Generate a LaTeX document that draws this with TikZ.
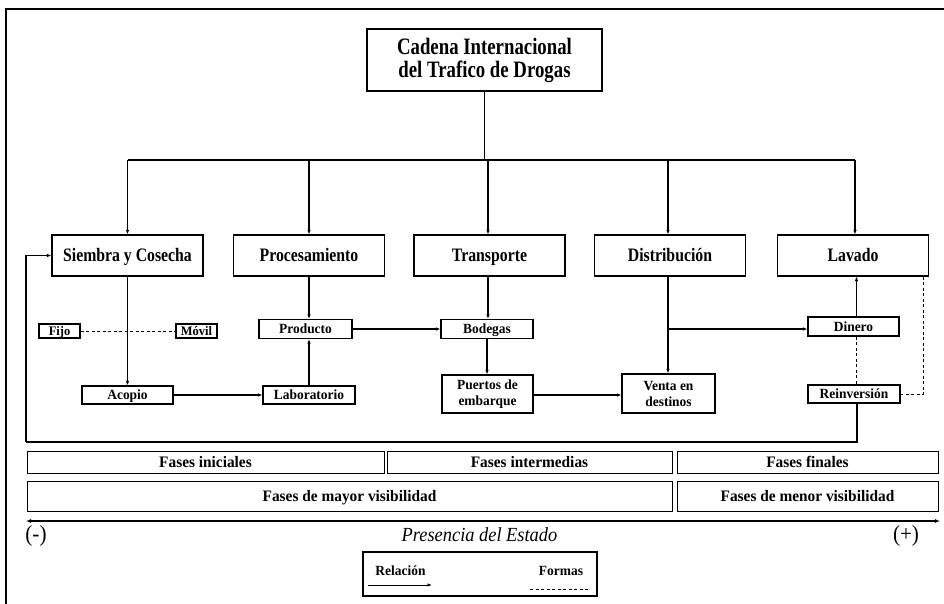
\documentclass[tikz,border=0pt]{standalone}
\usepackage{fontspec}
\setmainfont{Liberation Serif}
\newfontfamily\titlefont[FakeStretch=0.8]{Liberation Serif}
\newfontfamily\rowfont[FakeStretch=0.83]{Liberation Serif}
\newfontfamily\smallfont[FakeStretch=0.96]{Liberation Serif}
\newfontfamily\axisfont[FakeStretch=0.92]{Liberation Serif}
\usetikzlibrary{arrows.meta}
\tikzset{
  box/.style={draw, line width=1.1pt, inner sep=0pt, align=center},
  rel/.style={line width=1.1pt, -{Latex[length=4.5pt,width=3.5pt]}},
  plain/.style={line width=1.1pt},
  forma/.style={line width=0.7pt, dash pattern=on 3pt off 2.5pt},
  rowbox/.style={box, minimum width=151pt, minimum height=41pt, text height=15.2pt, text depth=2.7pt, font=\rowfont\bfseries\fontsize{19}{22}\selectfont},
  sbox/.style={box, minimum height=19pt, text height=11.2pt, text depth=2pt, font=\smallfont\bfseries\fontsize{14}{16}\selectfont},
  tinybox/.style={box, minimum width=41pt, minimum height=14pt, text height=10.4pt, text depth=1.8pt, font=\smallfont\bfseries\fontsize{13}{15}\selectfont},
  tbox/.style={box, minimum height=38pt, font=\smallfont\bfseries\fontsize{14}{16}\selectfont},
  fbox/.style={box, line width=0.9pt, text height=12.8pt, text depth=2.2pt, font=\smallfont\bfseries\fontsize{16}{18}\selectfont},
}
\begin{document}
\begin{tikzpicture}[x=1pt,y=-1pt]
\useasboundingbox (0,0) rectangle (944,604);
% outer frame
\draw[line width=1.5pt] (6,615) -- (6,9) -- (950,9);
% title
\node[box, line width=1.4pt, minimum width=235pt, minimum height=62pt, font=\titlefont\bfseries\fontsize{23.5}{23}\selectfont] (title) at (484.5,60) {Cadena Internacional\\del Trafico de Drogas};
% main row
\node[rowbox] (siembra) at (127.5,255.5) {Siembra y Cosecha};
\node[rowbox] (proc) at (309,255.5) {Procesamiento};
\node[rowbox] (transp) at (489.5,255.5) {Transporte};
\node[rowbox] (distr) at (670,255.5) {Distribución};
\node[rowbox] (lavado) at (853,255.5) {Lavado};
% tree
\coordinate (bar) at (484.5,160);
\draw[plain] (title.south) -- (bar);
\draw[plain, line width=1.4pt] (siembra.north |- bar) -- ([xshift=2pt]lavado.north |- bar);
\draw[rel] (siembra.north |- bar) -- (siembra.north);
\draw[rel] (proc.north |- bar) -- (proc.north);
\draw[rel] ([xshift=-1.5pt]transp.north |- bar) -- ([xshift=-1.5pt]transp.north);
\draw[rel] ([xshift=-2pt]distr.north |- bar) -- ([xshift=-2pt]distr.north);
\draw[rel] ([xshift=2pt]lavado.north |- bar) -- ([xshift=2pt]lavado.north);
% small boxes
\node[tinybox] (fijo) at (59.5,331) {Fijo};
\node[tinybox] (movil) at (196.5,331) {Móvil};
\node[sbox, minimum width=93pt] (producto) at (305.5,329) {Producto};
\node[sbox, minimum width=92pt] (bodegas) at (487,329) {Bodegas};
\node[sbox, minimum width=91pt] (dinero) at (853.5,326.5) {Dinero};
\node[sbox, minimum width=91pt, minimum height=18pt] (acopio) at (127.5,395) {Acopio};
\node[sbox, minimum width=92pt, minimum height=18pt] (lab) at (309,395) {Laboratorio};
\node[tbox, minimum width=91pt] (puertos) at (487.5,394) {Puertos de\\embarque};
\node[tbox, minimum width=93pt, minimum height=39pt] (venta) at (668.5,393.5) {Venta en\\destinos};
\node[sbox, minimum width=92pt, minimum height=18pt] (reinv) at (854,394) {Reinversión};
% connections
\draw[forma] (fijo.east) -- (movil.west);
\draw[rel] (siembra.south) -- (siembra.south |- acopio.north);
\draw[rel] (proc.south) -- (proc.south |- producto.north);
\draw[rel] (lab.north) -- (lab.north |- producto.south);
\draw[rel] (acopio.east) -- (lab.west);
\draw[rel] (producto.east) -- (bodegas.west);
\draw[rel] ([xshift=-1.5pt]transp.south) -- ([xshift=-1.5pt]transp.south |- bodegas.north);
\draw[rel] (bodegas.south) -- (bodegas.south |- puertos.north);
\draw[rel] ([yshift=-1pt]puertos.east) -- ([yshift=-1pt]puertos.east -| venta.west);
\draw[rel] ([xshift=-2pt]distr.south) -- ([xshift=-2pt]distr.south |- venta.north);
\coordinate (branch) at ([xshift=-2pt,yshift=-2.5pt]distr.south |- dinero.west);
\draw[rel] (branch) -- (branch -| dinero.west);
\draw[rel] ([xshift=3pt]dinero.north) -- ([xshift=3pt]dinero.north |- lavado.south);
\draw[forma] ([xshift=3pt]dinero.south) -- ([xshift=3pt]dinero.south |- reinv.north);
\coordinate (lavc) at (923,276.5);
\draw[forma] (lavc) |- (reinv.east);
\coordinate (loopc) at (26,442);
\draw[plain] ([xshift=3pt]reinv.south) |- (loopc);
\draw[rel] (loopc) |- (siembra.west);
% phases
\node[fbox, minimum width=357pt, minimum height=22pt] (ini) at (205.5,462) {Fases iniciales};
\node[fbox, minimum width=285pt, minimum height=22pt] (inter) at (529.5,462) {Fases intermedias};
\node[fbox, minimum width=261pt, minimum height=22pt] (fin) at (807.5,462) {Fases finales};
\node[fbox, minimum width=645pt, minimum height=30pt] (mayor) at (349.5,496) {Fases de mayor visibilidad};
\node[fbox, minimum width=261pt, minimum height=30pt] (menor) at (807.5,496) {Fases de menor visibilidad};
% state axis
\coordinate (axl) at (26,521);
\coordinate (axr) at (940,521);
\draw[line width=1.5pt, {Latex[length=5pt,width=4pt]}-{Latex[length=5pt,width=4pt]}] (axl) -- (axr);
\node[font=\axisfont\fontsize{23}{24}\selectfont] (menos) at (36,536) {(-)};
\node[font=\axisfont\itshape\fontsize{20}{22}\selectfont] (estado) at (479.5,535) {Presencia del Estado};
\node[font=\axisfont\fontsize{23}{24}\selectfont] (mas) at (906,536) {(+)};
% legend
\node[draw, line width=1.1pt, minimum width=234pt, minimum height=44pt] (leg) at (480,574) {};
\node[font=\smallfont\bfseries\fontsize{14}{16}\selectfont] (lrel) at (400.5,571) {Relación};
\node[font=\smallfont\bfseries\fontsize{14}{16}\selectfont] (lfor) at (561,571) {Formas};
\coordinate (ra) at (368,585);
\coordinate (rb) at (432,585);
\draw[rel, line width=0.9pt] (ra) -- (rb);
\coordinate (fa) at (530,589);
\coordinate (fb) at (590,589);
\draw[forma, line width=0.9pt] (fa) -- (fb);
\end{tikzpicture}
\end{document}
